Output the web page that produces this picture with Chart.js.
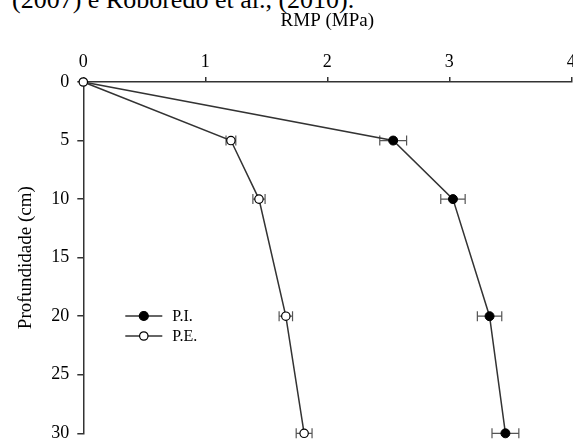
<!DOCTYPE html>
<html><head><meta charset="utf-8">
<script src="https://cdn.jsdelivr.net/npm/chart.js@4"></script>
<style>
html,body{margin:0;padding:0;background:#fff;overflow:hidden;}
#wrap{position:relative;width:573px;height:439px;overflow:hidden;background:#fff;}
#cv{position:absolute;left:0;top:0;}
#cap{position:absolute;left:12px;top:-13px;font:26px 'Liberation Serif','Times New Roman',serif;line-height:26px;white-space:nowrap;color:#000;}
</style></head>
<body><div id="wrap"><div id="cap">(2007) e Roboredo et al., (2010).</div><canvas id="cv" width="590" height="460"></canvas></div>
<script>
const depths=[0,5,10,20,30];
const piValues=[0,2.54,3.03,3.33,3.46];
const piErrors=[0,0.11,0.10,0.10,0.11];
const peValues=[0,1.21,1.44,1.66,1.81];
const peErrors=[0,0.04,0.05,0.055,0.065];
const seriesNames=['P.I.','P.E.'];
const xTicks=[0,1,2,3,4];
const yTicks=[0,5,10,15,20,25,30];
const xTitle='RMP (MPa)';
const yTitle='Profundidade (cm)';

const FAMILY="'Liberation Serif','Times New Roman',serif";
const LINE='#333';

const errorBars={id:'errorBars',beforeDatasetsDraw(chart){
  const {ctx,scales:{x,y}}=chart;
  chart.data.datasets.forEach(ds=>{
    ds.errors.forEach((e,j)=>{
      if(!e) return;
      const p=ds.data[j];
      const py=y.getPixelForValue(p.y);
      const x1=x.getPixelForValue(p.x-e), x2=x.getPixelForValue(p.x+e);
      ctx.save();ctx.strokeStyle='#555';ctx.lineWidth=1.2;ctx.beginPath();
      ctx.moveTo(x1,py);ctx.lineTo(x2,py);
      ctx.moveTo(x1,py-5);ctx.lineTo(x1,py+5);
      ctx.moveTo(x2,py-5);ctx.lineTo(x2,py+5);
      ctx.stroke();ctx.restore();
    });
  });
}};

const innerLegend={id:'innerLegend',afterDraw(chart){
  const {ctx,chartArea}=chart;
  const x0=chartArea.left+42, y0=chartArea.top+234, gap=20;
  const items=[chart.data.datasets[0],chart.data.datasets[1]];
  items.forEach((ds,i)=>{
    const yy=y0+i*gap;
    ctx.save();
    ctx.strokeStyle=LINE;ctx.lineWidth=1.5;
    ctx.beginPath();ctx.moveTo(x0,yy);ctx.lineTo(x0+37,yy);ctx.stroke();
    ctx.beginPath();ctx.arc(x0+18.5,yy,i===0?4.5:4.2,0,Math.PI*2);
    ctx.fillStyle=ds.pointBackgroundColor;ctx.fill();
    ctx.strokeStyle='#000';ctx.lineWidth=1.2;ctx.stroke();
    ctx.fillStyle='#000';ctx.font='16px '+FAMILY;ctx.textBaseline='middle';ctx.textAlign='left';
    ctx.fillText(ds.label,x0+47,yy+1);
    ctx.restore();
  });
}};

new Chart(document.getElementById('cv'),{
  type:'scatter',
  data:{datasets:[
    {label:seriesNames[0],data:depths.map((d,i)=>({x:piValues[i],y:d})),errors:piErrors,showLine:true,clip:false,
     borderColor:LINE,borderWidth:1.5,pointRadius:c=>c.dataIndex===0?0:4.5,pointBackgroundColor:'#000',
     pointBorderColor:'#000',pointBorderWidth:1,order:1},
    {label:seriesNames[1],data:depths.map((d,i)=>({x:peValues[i],y:d})),errors:peErrors,showLine:true,clip:false,
     borderColor:LINE,borderWidth:1.5,pointRadius:4.2,pointBackgroundColor:'#fff',
     pointBorderColor:'#000',pointBorderWidth:1.2,order:0}
  ]},
  options:{
    responsive:false,animation:false,devicePixelRatio:1,
    layout:{padding:{left:0,top:0,right:18.7,bottom:26.7}},
    plugins:{legend:{display:false},tooltip:{enabled:false}},
    scales:{
      x:{type:'linear',position:'top',min:0,max:4,
        afterBuildTicks:s=>{s.ticks=xTicks.map(v=>({value:v}));},
        afterFit:s=>{s.height=82;},
        ticks:{color:'#000',font:{family:FAMILY,size:18},padding:4,maxRotation:0,autoSkip:false},
        grid:{display:true,drawOnChartArea:false,drawTicks:true,tickLength:5,color:LINE,lineWidth:1.5},
        border:{display:true,color:LINE,width:1.5},
        title:{display:true,text:xTitle,color:'#000',font:{family:FAMILY,size:19},padding:{top:10,bottom:0}}},
      y:{type:'linear',reverse:true,min:0,max:30,
        afterBuildTicks:s=>{s.ticks=yTicks.map(v=>({value:v}));},
        afterFit:s=>{s.width=83.3;},
        ticks:{color:'#000',font:{family:FAMILY,size:18},padding:8,autoSkip:false},
        grid:{display:true,drawOnChartArea:false,drawTicks:true,tickLength:6,color:LINE,lineWidth:1.5},
        border:{display:true,color:LINE,width:1.5},
        title:{display:true,text:yTitle,color:'#000',font:{family:FAMILY,size:19},padding:{top:15,bottom:0}}}
    }
  },
  plugins:[errorBars,innerLegend]
});
</script>
</body></html>
